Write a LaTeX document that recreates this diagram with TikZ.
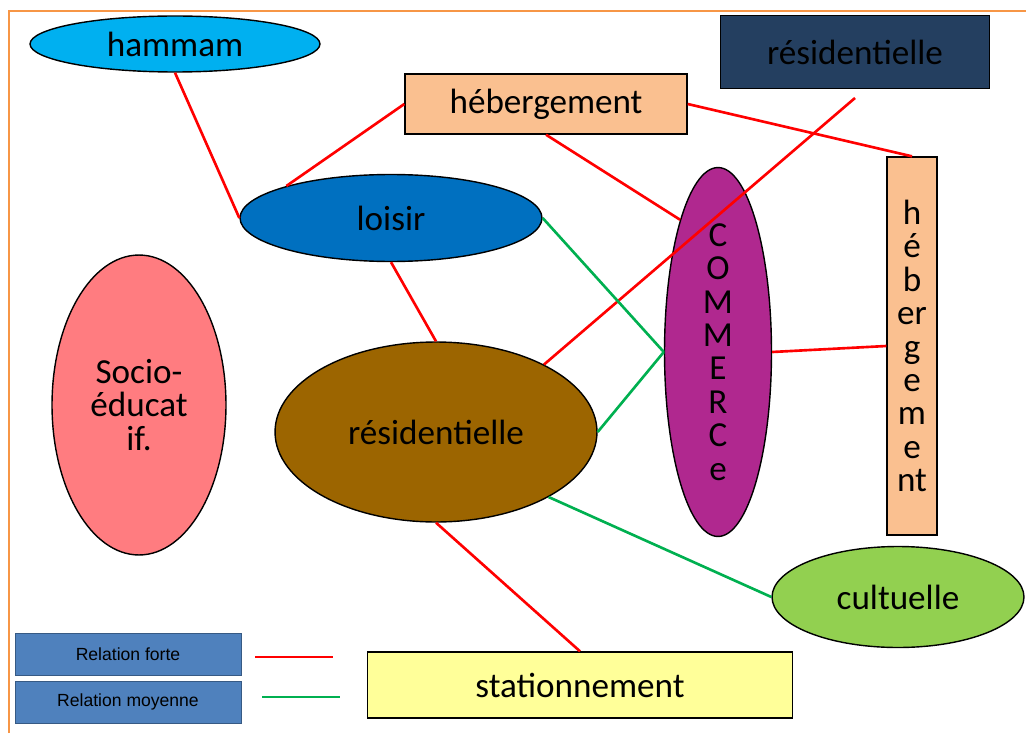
\documentclass[tikz,border=0pt]{standalone}
\usepackage{fontspec}
\setmainfont{Carlito}
\newfontfamily\legendfont{Liberation Sans}
\usetikzlibrary{shapes.geometric,calc}

\definecolor{cyanfill}{HTML}{00B0F0}
\definecolor{bluefill}{HTML}{0070C0}
\definecolor{peach}{HTML}{FAC090}
\definecolor{navy}{HTML}{243F60}
\definecolor{rosefill}{HTML}{FF7C80}
\definecolor{brownfill}{HTML}{9C6500}
\definecolor{purplefill}{HTML}{B0288F}
\definecolor{greenfill}{HTML}{92D050}
\definecolor{yellowfill}{HTML}{FFFF99}
\definecolor{legendblue}{HTML}{4F81BD}
\definecolor{frameorange}{HTML}{F79646}
\definecolor{linkred}{HTML}{FF0000}
\definecolor{linkgreen}{HTML}{00B050}

\begin{document}
\begin{tikzpicture}[
  x=0.02cm, y=-0.02cm,
  zone/.style={ellipse, draw=black, thick, inner sep=0pt, align=center, font=\fontsize{20}{19}\selectfont},
  block/.style={rectangle, draw=black, thick, inner sep=0pt, align=center, font=\fontsize{20}{19}\selectfont},
  legbox/.style={rectangle, draw=legendblue!70!black, fill=legendblue, inner sep=0pt,
    minimum width=4.52cm, minimum height=0.84cm, font=\legendfont\fontsize{10}{12}\selectfont},
  strong/.style={linkred, line width=1.5pt},
  medium/.style={linkgreen, line width=1.5pt},
]
\useasboundingbox (0,0) rectangle (1026,733);

% === Frame ===
\draw[frameorange, line width=1.5pt] (9,733) -- (9,11) -- (1026,11);

% === Zones ===
\node[zone, fill=cyanfill, minimum width=5.8cm, minimum height=1.12cm] (hammam) at (175,44) {hammam};
\node[zone, fill=bluefill, minimum width=6.04cm, minimum height=1.74cm] (loisir) at (391,218) {loisir};
\node[zone, fill=rosefill, minimum width=3.48cm, minimum height=6cm] (socio) at (139,405) {Socio-\\éducat\\if.};
\node[zone, fill=brownfill, minimum width=6.44cm, minimum height=3.6cm] (resid) at (436,432) {résidentielle};
\node[zone, fill=purplefill, minimum width=2.14cm, minimum height=7.38cm] (commerce) at (718,352)
  {C\\O\\M\\M\\E\\R\\C\\e};
\node[zone, fill=greenfill, minimum width=5.04cm, minimum height=2.02cm] (cultuelle) at (898,597) {cultuelle};

\node[block, fill=peach, minimum width=5.64cm, minimum height=1.2cm] (heberg) at (546,104) {hébergement};
\node[block, fill=navy, minimum width=5.38cm, minimum height=1.46cm] (residb) at (855,52) {résidentielle};
\node[block, fill=peach, minimum width=1cm, minimum height=7.56cm] (hebergv) at (912,346)
  {h\\é\\b\\er\\g\\e\\m\\e\\nt};
\node[block, fill=yellowfill, minimum width=8.5cm, minimum height=1.32cm] (station) at (580,685) {stationnement};

% === Relations ===
\draw[strong] (hammam.south) -- (loisir.west);
\draw[strong] (heberg.west) -- (loisir.163);
\draw[strong] (heberg.south) -- (commerce.106);
\draw[strong] (heberg.east) -- (hebergv.north);
\draw[strong] ([yshift=-5pt]residb.south) -- (resid.32);
\draw[strong] (loisir.south) -- (resid.north);
\draw[strong] (commerce.east) -- (hebergv.west);
\draw[strong] (resid.south) -- (station.north);

\draw[medium] (loisir.east) -- (commerce.west);
\draw[medium] (resid.east) -- (commerce.west);
\draw[medium] (resid.-30) -- (cultuelle.west);

% === Legend ===
\node[legbox] (forte) at (128,654) {Relation forte};
\node[legbox] (moyenne) at (128,702) {Relation moyenne};
\coordinate (forteA) at (255,657);
\coordinate (forteB) at (333,657);
\coordinate (moyA) at (262,697);
\coordinate (moyB) at (340,697);
\draw[strong] (forteA) -- (forteB);
\draw[medium] (moyA) -- (moyB);

\end{tikzpicture}
\end{document}
